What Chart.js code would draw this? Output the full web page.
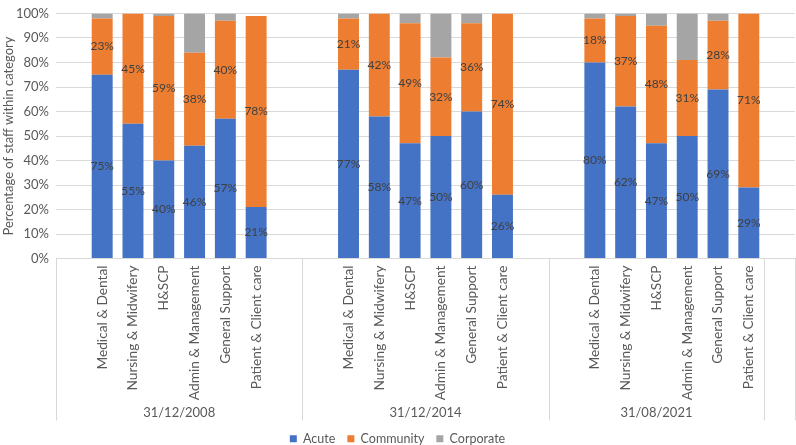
<!DOCTYPE html>
<html>
<head>
<meta charset="utf-8">
<script src="https://cdn.jsdelivr.net/npm/chart.js@4/dist/chart.umd.min.js"></script>
<style>
  html, body { margin: 0; padding: 0; background: #fff; }
  #wrap { width: 796px; height: 445px; }
</style>
</head>
<body>
<div id="wrap"><canvas id="chart" width="796" height="445"></canvas></div>
<script>
// Staff share by sector, per staff category and date

const GROUPS     = ['31/12/2008', '31/12/2014', '31/08/2021'];
const CATEGORIES = ['Medical & Dental', 'Nursing & Midwifery', 'H&SCP',
                    'Admin & Management', 'General Support', 'Patient & Client care'];
const Y_TICKS    = [0, 10, 20, 30, 40, 50, 60, 70, 80, 90, 100];

const acute2008     = [75, 55, 40, 46, 57, 21];
const community2008 = [23, 45, 59, 38, 40, 78];
const corporate2008 = [2, 0, 1, 16, 3, 0];

const acute2014     = [77, 58, 47, 50, 60, 26];
const community2014 = [21, 42, 49, 32, 36, 74];
const corporate2014 = [2, 0, 4, 18, 4, 0];

const acute2021     = [80, 62, 47, 50, 69, 29];
const community2021 = [18, 37, 48, 31, 28, 71];
const corporate2021 = [2, 1, 5, 19, 3, 0];

const FONT  = 'Lato, "Open Sans", sans-serif';
const GREY  = '#595959';
const LINE  = '#d9d9d9';

// ── Slot layout: blank, 6 categories, blank (last group has no trailing blank, one loose slot at end)

const labels = [];
const slotGroup = [];
const acute = [], community = [], corporate = [];
const seriesByGroup = [
  [acute2008, community2008, corporate2008],
  [acute2014, community2014, corporate2014],
  [acute2021, community2021, corporate2021],
];

function pushBlank(g) {
  labels.push(''); slotGroup.push(g);
  acute.push(null); community.push(null); corporate.push(null);
}

GROUPS.forEach((g, gi) => {
  pushBlank(gi);
  CATEGORIES.forEach((c, ci) => {
    labels.push(c); slotGroup.push(gi);
    acute.push(seriesByGroup[gi][0][ci]);
    community.push(seriesByGroup[gi][1][ci]);
    corporate.push(seriesByGroup[gi][2][ci]);
  });
  if (gi < GROUPS.length - 1) pushBlank(gi);
});
pushBlank(-1);

// ── Plugins ─────────────────────────────────────────────────────────

const barLabels = {
  id: 'barLabels',
  afterDatasetsDraw(chart) {
    const ctx = chart.ctx;
    ctx.save();
    ctx.font = '12px ' + FONT;
    ctx.fillStyle = '#404040';
    ctx.textAlign = 'center';
    ctx.textBaseline = 'middle';
    [0, 1].forEach(di => {
      const meta = chart.getDatasetMeta(di);
      meta.data.forEach((el, i) => {
        const v = chart.data.datasets[di].data[i];
        if (!v) return;
        ctx.fillText(Math.round(v) + '%', el.x, (el.y + el.base) / 2);
      });
    });
    ctx.restore();
  }
};

const groupAxis = {
  id: 'groupAxis',
  afterDraw(chart) {
    const x = chart.scales.x;
    const ctx = chart.ctx;
    const step = x.getPixelForValue(1) - x.getPixelForValue(0);
    const edge = i => x.getPixelForValue(i) - step / 2;

    // boundaries between groups
    const bounds = [0];
    for (let i = 1; i < slotGroup.length; i++) {
      if (slotGroup[i] !== slotGroup[i - 1]) bounds.push(i);
    }
    bounds.push(slotGroup.length);

    ctx.save();
    ctx.strokeStyle = LINE;
    ctx.lineWidth = 1;
    bounds.forEach(b => {
      const px = Math.round(edge(b)) + 0.5;
      ctx.beginPath();
      ctx.moveTo(px, chart.chartArea.bottom);
      ctx.lineTo(px, x.bottom);
      ctx.stroke();
    });

    ctx.font = '13px ' + FONT;
    ctx.fillStyle = GREY;
    ctx.textAlign = 'center';
    ctx.textBaseline = 'middle';
    GROUPS.forEach((g, gi) => {
      const first = slotGroup.indexOf(gi);
      const last  = slotGroup.lastIndexOf(gi) + 1;
      ctx.fillText(g, (edge(first) + edge(last)) / 2, x.bottom - 8);
    });
    ctx.restore();
  }
};

// ── Chart ───────────────────────────────────────────────────────────

new Chart(document.getElementById('chart'), {
  type: 'bar',
  data: {
    labels: labels,
    datasets: [
      { label: 'Acute',     data: acute,     backgroundColor: '#4472C4' },
      { label: 'Community', data: community, backgroundColor: '#ED7D31' },
      { label: 'Corporate', data: corporate, backgroundColor: '#A5A5A5' },
    ]
  },
  options: {
    responsive: false,
    animation: false,
    layout: { padding: { top: 6, right: 1, left: 0, bottom: -10 } },
    datasets: { bar: { categoryPercentage: 1, barPercentage: 0.68 } },
    plugins: {
      legend: {
        position: 'bottom',
        labels: {
          boxWidth: 7, boxHeight: 7, padding: 12,
          color: GREY, font: { family: FONT, size: 12.5 }
        }
      },
      tooltip: { enabled: false }
    },
    scales: {
      x: {
        stacked: true,
        grid: { display: false, drawTicks: false },
        border: { color: LINE },
        ticks: {
          autoSkip: false, minRotation: 90, maxRotation: 90, padding: 7,
          color: GREY, font: { family: FONT, size: 13.7 }
        },
        afterFit: s => { s.height = 162; s.paddingLeft = 0; s.paddingRight = 0; }
      },
      y: {
        stacked: true,
        min: 0, max: 100,
        afterBuildTicks: s => { s.ticks = Y_TICKS.map(v => ({ value: v })); },
        grid: { color: LINE, drawTicks: false },
        border: { display: false },
        ticks: {
          padding: 7, color: GREY,
          font: { family: FONT, size: 13, lineHeight: 1 },
          callback: v => v + '%'
        },
        title: {
          display: true, text: 'Percentage of staff within category',
          color: GREY, font: { family: FONT, size: 13 }, padding: { top: 1, bottom: 0 }
        },
        afterFit: s => { s.width = 56; }
      }
    }
  },
  plugins: [barLabels, groupAxis]
});
</script>
</body>
</html>
